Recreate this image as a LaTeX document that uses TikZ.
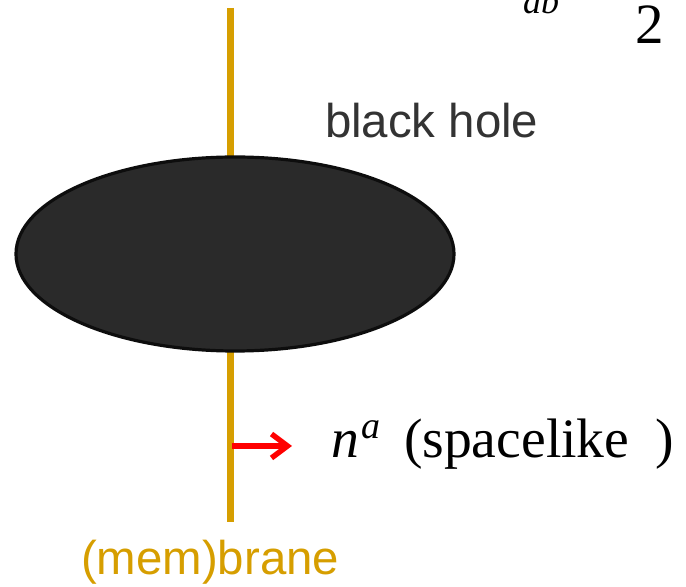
\documentclass[tikz,border=0pt]{standalone}
\usepackage{fontspec}
\setmainfont{Liberation Serif}
\setsansfont{Liberation Sans}
\usetikzlibrary{shapes.geometric,arrows.meta}
\definecolor{branegold}{RGB}{214,158,0}
\definecolor{holefill}{RGB}{42,42,42}

\begin{document}
\begin{tikzpicture}[
    x=0.5pt, y=-0.5pt,
    every node/.style={inner sep=0pt, outer sep=0pt},
    brane/.style={draw=branegold, line width=3.5pt},
    hole/.style={ellipse, draw=black!95, line width=1.6pt, fill=holefill, minimum width=219pt, minimum height=97pt},
    normal/.style={draw=red, line width=2.7pt, -{Straight Barb[length=8pt, width=12pt]}},
    label/.style={anchor=base west, font=\sffamily\fontsize{23.7pt}{28pt}\selectfont},
    serif/.style={anchor=base west, font=\fontsize{27.8pt}{32pt}\selectfont}
]
\useasboundingbox (0,0) rectangle (686,587);
\coordinate (top) at (230,8);
\coordinate (bottom) at (230,522);
\draw[brane] (top) -- (bottom);
\node[hole] (bh) at (235,254) {};
\node[label, text=black!80] (bhlabel) at (325,138) {black hole};
\node[label, text=branegold] (branelabel) at (81,575) {(mem)brane};
% normal vector
\coordinate (foot) at (232,446);
\coordinate (tip) at (292,446);
\draw[normal] (foot) -- (tip);
\node[serif] (n) at (331,458) {\itshape n};
\node[serif, font=\itshape\fontsize{19pt}{22pt}\selectfont] (sup) at (361,439) {a};
\node[serif] (kind) at (404,458) {(spacelike\hspace{13pt})};
% cut-off formula at the top
\node[serif, font=\itshape\fontsize{18pt}{20pt}\selectfont] (ab) at (523,14) {ab};
\node[serif, font=\fontsize{28.5pt}{32pt}\selectfont] (two) at (635,44) {2};
\end{tikzpicture}
\end{document}
